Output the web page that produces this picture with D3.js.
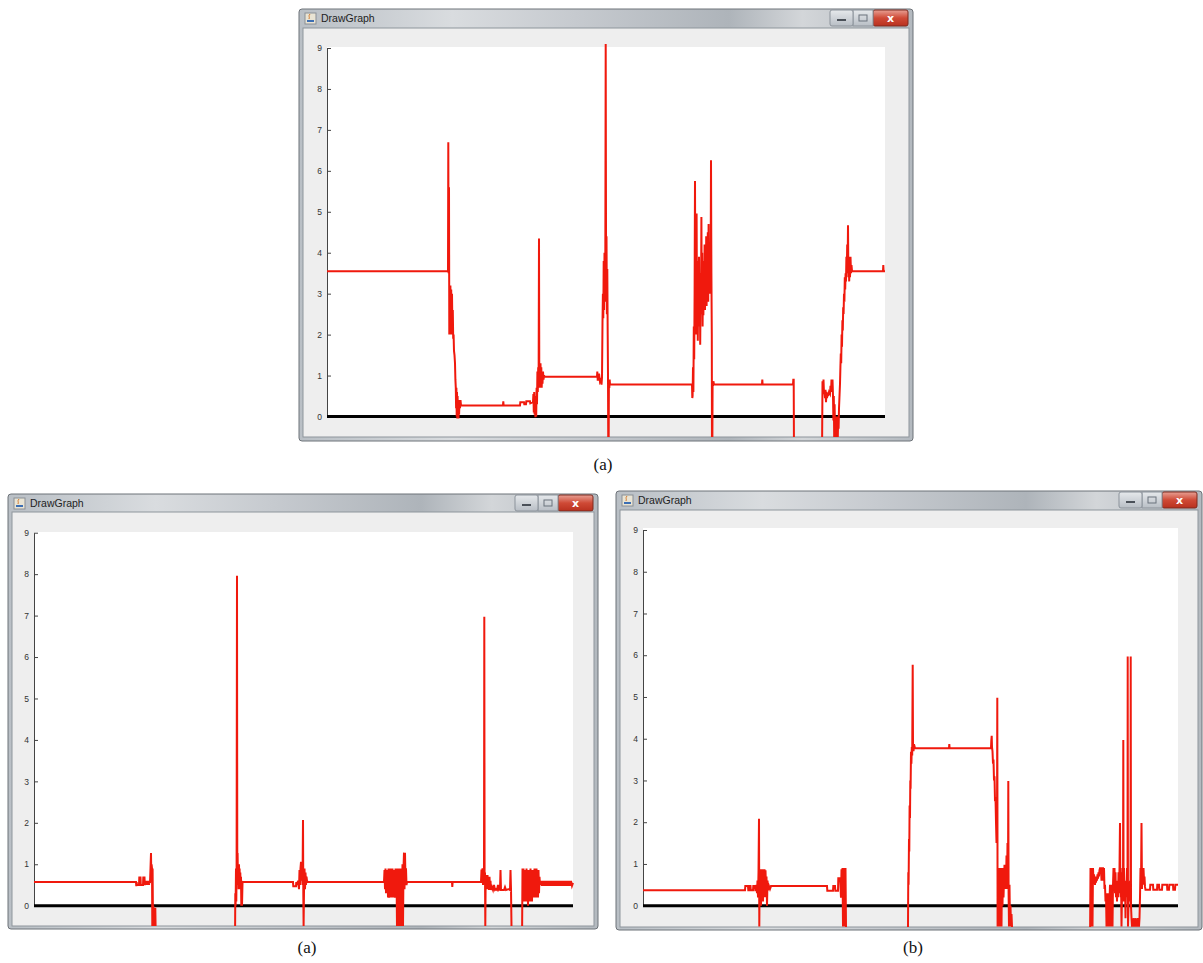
<!DOCTYPE html>
<html>
<head>
<meta charset="utf-8">
<script src="https://cdn.jsdelivr.net/npm/d3@7"></script>
<style>
  body { margin: 0; background: #fff; }
  svg { display: block; }
</style>
</head>
<body>
<div id="chart"></div>
<script>
// y axis ticks shared by the three windows
var yTicks = [0, 1, 2, 3, 4, 5, 6, 7, 8, 9];
var windowTitle = "DrawGraph";
var captions = ["(a)", "(a)", "(b)"];

// [sample, value], -1 = below the visible area
var topSeries = [
  [0,3.55],[121,3.55],[121.3,6.7],[121.6,3.5],[122,5.6],[122.3,2.0],[122.7,3.2],[123,2.0],[123.4,3.2],[123.8,2.1],
  [124.2,3.1],[124.6,2.0],[125,3.0],[125.4,2.2],[125.8,2.6],[126.2,1.9],[126.6,2.0],[127,1.6],[127.5,1.5],[128,1.3],
  [128.4,0.9],[128.8,0.7],[129.1,0.2],[129.4,0.7],[129.7,0.0],[130,0.6],[130.3,-0.05],[130.6,0.5],[130.9,0.0],[131.2,0.4],
  [131.5,-0.05],[131.8,0.35],[132.1,0.05],[132.5,0.4],[133,0.2],[133.5,0.4],[134,0.27],
  [176,0.27],[176.3,0.37],[176.6,0.27],[193,0.27],[193.3,0.35],[197,0.35],[197.3,0.3],[199,0.3],[199.3,0.37],[203,0.37],[203.3,0.32],[206,0.35],
  [206.4,0.55],[206.8,0.1],[207.2,0.6],[207.6,0.05],[208,0.5],[208.4,-0.02],[208.8,0.45],[209.2,0.0],[209.6,0.7],[210,0.3],
  [210.4,1.1],[210.8,0.6],[211.2,1.2],[211.6,0.7],[212,4.35],[212.3,0.8],[212.7,1.25],[213.1,0.7],[213.5,1.3],[213.9,0.8],
  [214.3,1.2],[214.7,0.7],[215.1,1.1],[215.5,0.8],[216,1.1],[216.5,0.9],[217,1.0],[218,0.97],
  [270,0.97],[270.3,1.1],[270.7,0.9],[271.5,0.9],[272,1.05],[273,0.85],[274,0.9],[274.5,0.78],[275,0.95],
  [275.5,2.3],[275.9,3.0],[276.3,2.4],[276.7,3.8],[277.1,2.6],[277.5,4.0],[277.9,2.8],[278.3,3.6],[278.7,9.1],[279.1,3.2],
  [279.5,4.4],[279.9,2.5],[280.3,3.6],[280.7,2.0],[281,1.0],[281.3,-1],[281.6,-1],[281.9,0.8],[282.3,0.7],[282.7,0.9],[283,0.78],
  [365,0.78],[365.3,0.45],[365.6,0.5],
  [366,1.2],[366.4,0.6],[366.8,2.2],[367.2,1.4],[367.6,3.0],[368,5.75],[368.4,2.6],[368.8,3.6],[369.2,2.0],[369.6,4.96],
  [370,2.4],[370.4,3.8],[370.8,1.85],[371.2,3.4],[371.6,2.8],[372,3.9],[372.4,2.2],[372.8,3.5],[373.2,1.75],[373.6,3.0],
  [374,2.5],[374.4,4.87],[374.8,2.6],[375.2,4.0],[375.6,2.2],[376,3.6],[376.4,2.47],[376.8,3.8],[377.2,2.9],[377.6,4.2],
  [378,2.6],[378.4,3.5],[378.8,3.0],[379.2,4.4],[379.6,2.7],[380,3.9],[380.4,3.1],[380.8,4.5],[381.2,2.8],[381.6,4.7],
  [382,3.2],[382.4,3.8],[382.8,3.0],[383.2,4.1],[383.6,3.2],[384,6.26],[384.4,3.5],[384.8,2.0],[385,-1],[385.3,-1],
  [385.6,0.86],[386,0.75],[386.4,0.86],[387,0.78],
  [435,0.78],[435.3,0.9],[435.6,0.78],[466,0.78],[466.3,0.9],[466.7,0.9],[467,-1],
  [495,-1],[495.5,0.86],[496,0.6],[496.5,0.9],[497,0.55],[497.5,0.6],[498,0.45],[498.5,0.65],[499,0.35],[499.5,0.6],
  [500,0.45],[500.5,0.55],[501,0.5],[502,0.6],[503,0.55],[503.5,0.75],[504,0.6],[504.5,0.9],[505,0.6],[505.5,0.9],
  [506,0.5],[506.4,-0.1],[506.8,0.5],[507.2,-0.5],[507.6,0.3],[508,-0.3],[508.4,-0.5],[508.8,-0.1],[509.2,-0.5],[509.6,0.0],
  [510,-0.4],[510.4,-0.1],[510.8,-0.5],[511.2,0.0],[511.6,-0.3],[512,0.2],
  [513,0.8],[513.4,1.2],[513.8,1.54],[514.2,1.3],[514.6,2.0],[515,1.7],[515.4,2.35],[515.8,2.1],[516.2,2.67],[516.6,2.5],
  [517,3.0],[517.4,2.8],[517.8,3.4],[518.2,3.1],[518.6,3.5],[519,3.3],[519.4,3.9],[519.8,3.5],[520.2,4.2],[520.6,3.6],
  [521,4.67],[521.4,3.4],[521.8,3.9],[522.2,3.3],[522.6,3.8],[523,3.4],[523.5,3.9],[524,3.5],[524.5,3.7],[525,3.55],
  [556,3.55],[556.3,3.7],[556.6,3.55],[558,3.55]
];

var leftSeries = [
  [0,0.57],[102,0.57],[102.3,0.47],[102.6,0.57],[103,0.5],[105,0.5],[105.3,0.68],[106.5,0.68],[106.8,0.5],[109,0.5],
  [109.3,0.68],[110.5,0.68],[110.8,0.5],[111.5,0.6],[112,0.5],[112.5,0.6],[113,0.5],[113.5,0.6],[114,0.5],[114.5,0.6],
  [115,0.5],[115.5,0.6],[116,0.55],[116.5,0.9],[117,1.27],[117.3,0.7],[117.6,1.0],[118,0.9],[118.3,-0.5],[118.6,0.9],
  [119,-0.5],[119.3,0.0],[119.6,-0.5],[120,-0.1],[120.3,-0.5],[120.6,-0.1],[121,-0.5],[121.3,-0.05],[121.6,-0.5],[122,-1],
  [201,-1],[201.3,0.3],[201.6,0.0],[202,0.9],[202.3,0.1],[202.6,0.85],[203,7.96],[203.3,0.6],[203.6,1.27],[204,0.5],
  [204.3,0.98],[204.6,0.4],[205,1.0],[205.3,0.5],[205.6,0.9],[206,0.4],[206.3,0.8],[206.6,0.5],[207,0.7],[207.3,0.0],
  [207.6,0.6],[208,0.0],[208.5,0.55],[209,0.57],
  [259,0.57],[259.3,0.47],[262,0.47],[262.3,0.57],[263,0.5],[264,0.6],[265,0.4],[265.5,0.86],[266,0.5],[266.5,0.9],
  [267,1.06],[267.5,0.6],[268,0.9],[268.5,0.5],[269,2.07],[269.3,0.3],[269.6,-0.5],[270,0.34],[270.5,0.9],[271,0.4],
  [271.5,0.8],[272,0.5],[272.5,0.7],[273,0.6],[274,0.57],
  [350,0.57],[350.5,0.86],[351,0.4],[351.5,0.9],[352,0.3],[352.5,0.86],[353,0.45],[353.5,0.8],[354,0.2],[354.5,0.9],
  [355,0.19],[355.5,0.86],[356,0.2],[356.5,0.9],[357,0.25],[357.5,0.85],[358,0.2],[358.5,0.9],[359,0.3],[359.5,0.86],
  [360,0.2],[360.5,0.8],[361,0.19],[361.5,0.9],[362,0.3],[362.5,0.86],[363,-0.5],[363.5,0.9],[364,0.2],[364.5,0.86],
  [365,-0.5],[365.5,0.9],[366,0.2],[366.5,0.85],[367,-0.5],[367.5,0.9],[368,0.3],[368.5,1.0],[369,-0.5],[369.5,0.9],
  [370,1.28],[370.5,0.4],[371,1.28],[371.5,0.6],[372,0.9],[372.5,0.5],[373,0.57],
  [418,0.57],[418.3,0.45],[418.6,0.57],[447,0.57],[447.5,0.87],[448,0.6],[448.5,0.9],[449,0.5],[450,0.8],[450.3,6.97],
  [450.6,0.6],[451,0.8],[451.3,-0.5],[451.7,0.74],[452,0.5],[452.5,0.7],[453,0.4],[453.5,0.74],[454,0.45],[454.5,0.6],
  [455,0.38],[455.5,0.7],[456,0.4],[456.5,0.6],[457,0.38],[458,0.45],[459,0.38],[460,0.5],[461,0.38],[462,0.4],
  [463,0.38],[464,0.5],[465,0.38],[466,0.4],[466.5,0.86],[467,0.38],[470,0.38],[471,0.45],[472,0.38],[475,0.4],
  [476,0.38],[476.5,0.86],[477,0.4],[477.5,-0.5],[478,-1],
  [488,-1],[488.5,0.9],[489,0.1],[489.5,0.9],[490,0.3],[490.5,0.86],[491,0.1],[491.5,0.8],[492,0.2],[492.5,0.9],
  [493,0.1],[493.5,0.7],[494,0.0],[494.5,0.86],[495,0.2],[495.5,0.8],[496,0.1],[496.5,0.9],[497,0.2],[497.5,0.8],
  [498,0.1],[498.5,0.86],[499,0.3],[499.5,0.8],[500,0.2],[500.5,0.9],[501,0.3],[501.5,0.86],[502,0.2],[502.5,0.9],
  [503,0.3],[503.5,0.8],[504,0.2],[504.5,0.86],[505,0.3],[505.5,0.7],[506,0.5],
  [507,0.6],[508,0.48],[509,0.6],[510,0.48],[511,0.6],[512,0.48],[513,0.6],[514,0.48],[515,0.6],[516,0.48],
  [517,0.6],[518,0.48],[519,0.6],[520,0.48],[521,0.6],[522,0.48],[523,0.6],[524,0.48],[525,0.6],[526,0.48],
  [527,0.6],[528,0.48],[529,0.6],[530,0.48],[531,0.6],[532,0.48],[533,0.6],[534,0.48],[535,0.6],[536,0.48],
  [537,0.6],[538,0.48],[539,0.55]
];

var rightSeries = [
  [0,0.37],[102,0.37],[102.3,0.47],[105,0.47],[105.3,0.37],[106,0.37],[106.3,0.47],[107.5,0.47],[107.8,0.37],[110,0.37],
  [110.3,0.47],[112,0.47],[112.3,0.37],[113,0.37],[113.5,0.5],[114,0.3],[114.5,0.6],[115,0.2],[115.5,0.8],[116,2.08],
  [116.3,-0.5],[116.7,0.85],[117,0.1],[117.5,0.87],[118,0.0],[118.5,0.85],[119,0.2],[119.5,0.87],[120,0.1],[120.5,0.8],
  [121,0.3],[121.5,0.87],[122,0.2],[122.5,0.85],[123,0.4],[123.5,0.7],[124,0.0],[124.5,0.6],[125,0.37],[126,0.47],
  [127,0.4],[128,0.47],
  [184,0.47],[184.3,0.36],[190,0.36],[190.3,0.47],[192,0.47],[192.3,0.36],[195,0.36],[195.3,0.66],[197,0.66],[197.3,0.55],
  [198,0.19],[198.5,0.87],[199,0.3],[199.5,0.9],[200,-0.5],[200.5,0.9],[201,0.2],[201.5,0.9],[202,-0.5],[202.5,0.9],
  [203,-0.5],[203.5,-1],
  [264,-1],[265,-0.5],[265.3,0.8],[265.6,0.5],[266,1.6],[266.3,1.3],[266.6,2.4],[267,2.1],[267.3,3.0],[267.6,2.8],
  [268,3.69],[268.4,3.4],[268.8,3.8],[269.2,3.6],[269.7,5.77],[270,3.87],[270.5,3.7],[271,3.87],[272,3.77],
  [306,3.77],[306.3,3.87],[306.6,3.77],[348,3.77],[348.3,3.95],[348.7,4.07],[349,3.8],[349.5,3.7],[350,3.4],[350.5,3.5],
  [351,3.0],[351.5,3.1],[352,2.5],[352.5,2.6],[353,2.0],[353.5,1.5],[354,1.8],[354.3,4.98],[354.6,-0.5],[355,0.9],
  [355.5,-0.5],[356,0.9],[356.5,0.0],[357,0.9],[357.5,-0.5],[358,0.9],[358.5,-0.5],[359,0.9],[359.5,0.0],[360,0.9],
  [360.5,0.2],[361,0.6],[361.5,0.98],[362,0.4],[362.5,0.9],[363,0.5],[363.5,1.2],[364,0.4],[364.5,1.5],[365,0.6],
  [365.3,2.99],[365.6,0.3],[366,-0.5],[366.5,0.5],[367,-0.5],[367.5,0.0],[368,-0.5],[368.5,-0.2],[369,-0.5],[369.5,-1],
  [447,-1],[447.5,0.9],[448,-0.5],[448.5,0.9],[449,0.7],[449.5,-0.5],[450,0.9],[450.5,0.58],[451,0.75],[452,0.5],
  [452.5,0.7],[453,0.55],[453.5,0.7],[454,0.6],[454.5,0.75],[455,0.65],[455.5,0.8],[456,0.7],[456.5,0.85],[457,0.9],
  [458,0.9],[458.5,0.6],[459,0.9],[460,0.9],[460.5,0.6],[461,0.9],[461.5,0.4],[462,0.5],[462.5,0.1],[463,0.3],
  [463.5,-0.5],[464,0.2],[464.5,0.0],[465,0.3],[465.5,-0.5],[466,0.2],[466.5,0.1],[467,0.5],[467.5,-0.5],[468,0.3],
  [468.5,0.5],[469,0.2],[469.5,-0.5],[470,0.5],[470.5,0.9],[471,0.6],[471.5,0.9],[472,0.3],[472.5,0.8],[473,0.2],
  [473.5,0.5],[474,0.1],[474.5,0.6],[475,0.2],[475.5,0.8],[476,0.3],[476.5,0.9],[477,1.98],[477.3,0.6],[477.6,0.2],
  [478,0.8],[478.5,-0.5],[479,0.3],[479.5,0.9],[480,0.1],[480.3,3.97],[480.6,0.2],[481,0.9],[481.5,0.1],[482,0.6],
  [482.5,-0.3],[483,0.5],[483.5,0.3],[484,0.9],[484.5,0.2],[484.7,5.97],[485,-0.5],[485.5,0.0],[486,0.5],[486.5,0.1],
  [487,0.6],[487.5,0.2],[487.7,5.97],[488,0.0],[488.5,-0.3],[489,-0.5],[489.5,-0.3],[490,-0.5],[491,-0.3],[491.5,-0.5],
  [492,-0.3],[493,-0.5],[493.5,-0.3],[494,-0.5],[495,-0.3],[496,-0.5],[496.5,-0.3],[497,0.2],[497.5,0.9],[498,0.5],
  [498.5,1.98],[499,0.4],[499.5,0.9],[500,0.5],[500.5,0.9],[501,0.6],[501.5,0.7],[502,0.45],[502.5,0.38],
  [507,0.38],[507.3,0.5],[510,0.5],[510.3,0.38],[514,0.38],[514.3,0.5],[516,0.5],[516.3,0.38],[519,0.38],[519.3,0.5],
  [524,0.5],[524.3,0.38],[526,0.38],[526.3,0.5],[530,0.5],[530.3,0.38],[532,0.38],[532.3,0.5],[535,0.5]
];

// window layout (screen pixels)
var panels = [
  { win: {x: 299, y: 9, w: 614, h: 432}, titleH: 19, client: {x: 303, y: 28, r: 909, b: 437},
    plot: {x: 327, y: 47, r: 885}, y0: 416.5, y9: 48, domain: [0, 558],
    caption: {x: 603, y: 470}, series: topSeries },
  { win: {x: 8, y: 494, w: 590, h: 435}, titleH: 18, client: {x: 12, y: 512, r: 594, b: 926},
    plot: {x: 34, y: 532, r: 573}, y0: 905.7, y9: 532.7, domain: [0, 539],
    caption: {x: 307, y: 953}, series: leftSeries },
  { win: {x: 616, y: 491, w: 586, h: 439}, titleH: 19, client: {x: 620, y: 510, r: 1198, b: 927},
    plot: {x: 643, y: 528, r: 1178}, y0: 905.7, y9: 530, domain: [0, 535],
    caption: {x: 913, y: 953}, series: rightSeries }
];

var svg = d3.select("#chart")
  .append("svg")
  .attr("width", 1203)
  .attr("height", 963);

var defs = svg.append("defs");

// blurred aero frame
var frameGrad = defs.append("linearGradient")
  .attr("id", "frameGrad")
  .attr("x1", "0").attr("x2", "1").attr("y1", "0").attr("y2", "0");
[["0", "#b9bfc5"], ["0.25", "#d9dcdf"], ["0.45", "#c6cacf"], ["0.7", "#aeb4ba"], ["0.82", "#d3d6d9"], ["1", "#b3b9bf"]]
  .forEach(function (s) {
    frameGrad.append("stop").attr("offset", s[0]).attr("stop-color", s[1]);
  });

var closeGrad = defs.append("linearGradient")
  .attr("id", "closeGrad")
  .attr("x1", "0").attr("x2", "0").attr("y1", "0").attr("y2", "1");
closeGrad.append("stop").attr("offset", "0").attr("stop-color", "#e8a094");
closeGrad.append("stop").attr("offset", "0.5").attr("stop-color", "#cf4a36");
closeGrad.append("stop").attr("offset", "1").attr("stop-color", "#b9311f");

var btnGrad = defs.append("linearGradient")
  .attr("id", "btnGrad")
  .attr("x1", "0").attr("x2", "0").attr("y1", "0").attr("y2", "1");
btnGrad.append("stop").attr("offset", "0").attr("stop-color", "#e6e9ec");
btnGrad.append("stop").attr("offset", "1").attr("stop-color", "#b8bec5");

panels.forEach(function (p, i) {
  var g = svg.append("g");

  // window frame
  g.append("rect")
    .attr("x", p.win.x).attr("y", p.win.y)
    .attr("width", p.win.w).attr("height", p.win.h)
    .attr("rx", 3)
    .attr("fill", "url(#frameGrad)")
    .attr("stroke", "#6d7278");

  // title bar icon + text
  g.append("rect")
    .attr("x", p.win.x + 6).attr("y", p.win.y + 4)
    .attr("width", 11).attr("height", 11)
    .attr("fill", "#e9e4d4").attr("stroke", "#8a8f96");
  g.append("path")
    .attr("d", "M" + (p.win.x + 8) + "," + (p.win.y + 13) + "h7v-2h-7z")
    .attr("fill", "#3d6fb3");
  g.append("path")
    .attr("d", "M" + (p.win.x + 10) + "," + (p.win.y + 10) + "c1,-2 -1,-3 1,-5")
    .attr("fill", "none").attr("stroke", "#d4782a");
  g.append("text")
    .attr("x", p.win.x + 22).attr("y", p.win.y + 13)
    .attr("font-family", "Liberation Sans, Arial, sans-serif")
    .attr("font-size", 10.5)
    .attr("fill", "#1e1e1e")
    .text(windowTitle);

  // caption buttons
  var bx = p.win.x + p.win.w - 5, by = p.win.y + 1;
  g.append("rect").attr("x", bx - 35).attr("y", by).attr("width", 35).attr("height", 16)
    .attr("rx", 2).attr("fill", "url(#closeGrad)").attr("stroke", "#7e2a1e");
  g.append("text").attr("x", bx - 17.5).attr("y", by + 12).attr("text-anchor", "middle")
    .attr("font-family", "DejaVu Sans, sans-serif").attr("font-size", 11).attr("font-weight", "bold")
    .attr("fill", "#fff").text("x");
  g.append("rect").attr("x", bx - 55).attr("y", by).attr("width", 20).attr("height", 16)
    .attr("fill", "url(#btnGrad)").attr("stroke", "#8c939b");
  g.append("rect").attr("x", bx - 49).attr("y", by + 5).attr("width", 8).attr("height", 6)
    .attr("fill", "none").attr("stroke", "#6b737c");
  g.append("rect").attr("x", bx - 78).attr("y", by).attr("width", 23).attr("height", 16)
    .attr("rx", 2).attr("fill", "url(#btnGrad)").attr("stroke", "#8c939b");
  g.append("rect").attr("x", bx - 71).attr("y", by + 9).attr("width", 9).attr("height", 2)
    .attr("fill", "#4a5058");

  // client area
  g.append("rect")
    .attr("x", p.client.x).attr("y", p.client.y)
    .attr("width", p.client.r - p.client.x).attr("height", p.client.b - p.client.y)
    .attr("fill", "#eeeeee")
    .attr("stroke", "#8e959c");

  // white drawing area
  g.append("rect")
    .attr("x", p.plot.x).attr("y", p.plot.y)
    .attr("width", p.plot.r - p.plot.x).attr("height", p.y0 - p.plot.y)
    .attr("fill", "#ffffff");

  var x = d3.scaleLinear().domain(p.domain).range([p.plot.x, p.plot.r]);
  var y = d3.scaleLinear().domain([0, 9]).range([p.y0, p.y9]);

  // y axis, ticks point into the plot
  var axis = g.append("g")
    .attr("transform", "translate(" + p.plot.x + ",0)")
    .call(d3.axisLeft(y).tickValues(yTicks).tickSize(-4).tickSizeOuter(0).tickPadding(5));
  axis.select(".domain").attr("stroke", "#444");
  axis.selectAll(".tick line").attr("stroke", "#444");
  axis.selectAll(".tick text")
    .attr("font-family", "Liberation Sans, Arial, sans-serif")
    .attr("font-size", 8.5)
    .attr("fill", "#333");

  // zero line
  g.append("line")
    .attr("x1", p.plot.x).attr("x2", p.plot.r)
    .attr("y1", y(0)).attr("y2", y(0))
    .attr("stroke", "#000")
    .attr("stroke-width", 3);

  // signal, clipped to the client area
  defs.append("clipPath").attr("id", "clip" + i)
    .append("rect")
    .attr("x", p.plot.x).attr("y", p.client.y)
    .attr("width", p.plot.r - p.plot.x + 2).attr("height", p.client.b - p.client.y);

  var line = d3.line()
    .x(function (d) { return x(d[0]); })
    .y(function (d) { return y(d[1]); });

  g.append("path")
    .datum(p.series)
    .attr("clip-path", "url(#clip" + i + ")")
    .attr("d", line)
    .attr("fill", "none")
    .attr("stroke", "#f0190d")
    .attr("stroke-width", 2)
    .attr("stroke-linejoin", "miter");

  // caption under each screenshot
  svg.append("text")
    .attr("x", p.caption.x).attr("y", p.caption.y)
    .attr("text-anchor", "middle")
    .attr("font-family", "Liberation Serif, Times New Roman, serif")
    .attr("font-size", 17)
    .attr("fill", "#111")
    .text(captions[i]);
});
</script>
</body>
</html>
